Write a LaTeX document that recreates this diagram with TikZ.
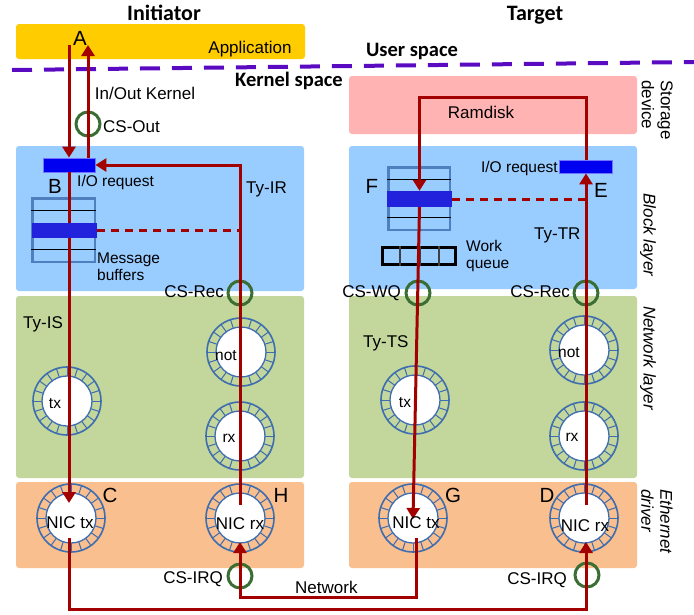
\documentclass[tikz,border=0pt]{standalone}
\usepackage{fontspec}
\setmainfont{Liberation Sans}
\newfontfamily\titlefont{Carlito}
\usetikzlibrary{arrows.meta,calc}
\definecolor{appyellow}{HTML}{FFCC00}
\definecolor{storpink}{HTML}{FFB3B3}
\definecolor{blockblue}{HTML}{99CCFF}
\definecolor{netgreen}{HTML}{C3D69B}
\definecolor{ethorange}{HTML}{F9BF8F}
\definecolor{ringblue}{HTML}{3E6DB0}
\definecolor{csgreen}{HTML}{3B6E35}
\definecolor{darkred}{HTML}{A30000}
\definecolor{divpurple}{HTML}{5A0BC2}
\definecolor{barblue}{HTML}{0000F0}
\definecolor{msgblue}{HTML}{2222DD}
\definecolor{bufblue}{HTML}{4F7FBF}
\pgfdeclarelayer{front}
\pgfsetlayers{main,front}
\begin{document}
\begin{tikzpicture}[x=1pt,y=-1pt,
  layer/.style={rectangle, rounded corners=3pt, inner sep=0pt},
  txt/.style={inner sep=0pt, font=\fontsize{17}{19}\selectfont},
  stxt/.style={inner sep=0pt, font=\fontsize{15.5}{17}\selectfont},
  letter/.style={inner sep=0pt, font=\fontsize{20.5}{20.5}\selectfont},
  ttl/.style={inner sep=0pt, font=\titlefont\bfseries\fontsize{22}{22}\selectfont},
  sub/.style={inner sep=0pt, font=\titlefont\bfseries\fontsize{20.5}{20.5}\selectfont},
  side/.style={inner sep=0pt, rotate=-90, align=left, font=\fontsize{17}{19}\selectfont},
  ring/.style={circle, draw=ringblue, line width=1.6pt, minimum size=68pt, inner sep=0pt,
    path picture={
      \foreach \a in {0,18,...,342}{\draw[ringblue, line width=1pt] (path picture bounding box.center) -- ++(\a:40);}
      \fill[white] (path picture bounding box.center) circle[radius=25pt];
      \draw[ringblue, line width=1.3pt] (path picture bounding box.center) circle[radius=25pt];
    }},
  cs/.style={circle, draw=csgreen, line width=3pt, minimum size=24pt, inner sep=0pt},
  bar/.style={inner sep=0pt, rectangle},
  buf/.style={draw=bufblue, line width=2.5pt, inner sep=0pt, rectangle},
  redarr/.style={draw=darkred, line width=3pt, -{Triangle[width=13pt,length=11pt]}},
  reddash/.style={draw=darkred, line width=3pt, dash pattern=on 8pt off 6pt},
]
\useasboundingbox (0,0) rectangle (694,614);
\fill[white] (0,0) rectangle (694,614);

% layer boxes
\node[layer, fill=appyellow, minimum width=289pt, minimum height=35pt] (app) at (160.5,41.5) {};
\node[layer, fill=storpink, minimum width=288pt, minimum height=58pt] (stor) at (493,105) {};
\node[layer, fill=blockblue, minimum width=288pt, minimum height=145pt] (blockL) at (160,218.5) {};
\node[layer, fill=blockblue, minimum width=288pt, minimum height=143pt] (blockR) at (493,217.5) {};
\node[layer, fill=netgreen, minimum width=288pt, minimum height=182pt] (netL) at (160,387) {};
\node[layer, fill=netgreen, minimum width=288pt, minimum height=182pt] (netR) at (493,387) {};
\node[layer, fill=ethorange, minimum width=288pt, minimum height=86pt] (ethL) at (160,525) {};
\node[layer, fill=ethorange, minimum width=288pt, minimum height=86pt] (ethR) at (493,525) {};

% user / kernel divider
\coordinate (divL) at (12,70);
\coordinate (divR) at (694,62);
\draw[divpurple, line width=4pt, dash pattern=on 20pt off 12pt] (divL) -- (divR);

% rings
\node[ring] (txL) at (67,401) {};
\node[ring] (notL) at (241,352) {};
\node[ring] (rxL) at (240,436) {};
\node[ring] (txR) at (415,400) {};
\node[ring] (notR) at (584,350) {};
\node[ring] (rxR) at (584,436) {};
\node[ring] (nictxL) at (71,518) {};
\node[ring] (nicrxL) at (240,518) {};
\node[ring] (nictxR) at (413,518) {};
\node[ring] (nicrxR) at (584,518) {};

% message buffers (initiator)
\node[buf, minimum width=62.5pt, minimum height=63.5pt] (bufL) at (63.5,230) {};
\draw[black, line width=1pt] (bufL.west |- 0,210) -- (bufL.east |- 0,210);
\draw[black, line width=1pt] (bufL.west |- 0,249) -- (bufL.east |- 0,249);
% F queue (target)
\node[buf, minimum width=61.5pt, minimum height=62.5pt] (bufR) at (419,198.5) {};
\draw[black, line width=1pt] (bufR.west |- 0,179) -- (bufR.east |- 0,179);
\draw[black, line width=1pt] (bufR.west |- 0,217) -- (bufR.east |- 0,217);
% work queue
\node[draw=black, line width=3pt, inner sep=0pt, minimum width=73pt, minimum height=17pt] (wq) at (419,256) {};
\foreach \xx in {400,420,439}{\draw[black!75, line width=1.5pt] (wq.north -| \xx,0) -- (wq.south -| \xx,0);}

% I/O request bars
\node[bar, fill=barblue, draw=blue!55, line width=0.8pt, minimum width=52pt, minimum height=14pt] (ioreqL) at (69,165) {};
\node[bar, fill=barblue, draw=blue!55, line width=0.8pt, minimum width=53pt, minimum height=13pt] (ioreqR) at (586,166.5) {};
\begin{pgfonlayer}{front}
\node[bar, fill=msgblue, minimum width=65pt, minimum height=15pt] (msgL) at (64.5,230.5) {};
\node[bar, fill=msgblue, minimum width=65pt, minimum height=16pt] (msgR) at (419.5,199) {};
\end{pgfonlayer}

% CS circles
\node[cs] (csout) at (88,124) {};
\node[cs] (csrecL) at (240,293) {};
\node[cs] (cswq) at (418,293) {};
\node[cs] (csrecR) at (586,293) {};
\node[cs] (csirqL) at (240,576) {};
\node[cs] (csirqR) at (587,575) {};

% connector end points
\coordinate (appOut) at (69,45);
\coordinate (appIn) at (88,45);
\coordinate (Ctip) at (69,503);
\coordinate (Cout) at (69,538);
\coordinate (Hout) at (240,505);
\coordinate (Htip) at (240,542);
\coordinate (Gout) at (416,538);
\coordinate (Gtip) at (413,519);
\coordinate (Dout) at (586,505);
\coordinate (Dtip) at (586,542);
\coordinate (netA) at (0,597);
\coordinate (netB) at (0,609);
\coordinate (ramTop) at (0,97);

% red connectors
\draw[redarr] (appOut) -- (appOut |- ioreqL.north);
\draw[redarr] (ioreqL.north -| appIn) -- (appIn);
\draw[redarr] (ioreqL.south) -- (Ctip);
\draw[redarr] (Hout) -- (Hout |- ioreqL.east) -- (ioreqL.east);
\draw[redarr] (Cout) -- (Cout |- netB) -| (Dtip);
\draw[redarr] (Gout) -- (Gout |- netA) -| (Htip);
\draw[redarr] (Dout) -- (Dout |- ioreqR.south);
\draw[redarr] (ioreqR.north) -- (ioreqR.north |- ramTop) -| (msgR.north);
\draw[redarr] (msgR.south) -- (Gtip);
\draw[reddash] (msgL.east) -- (msgL.east -| Hout);
\draw[reddash] (msgR.east) -- (msgR.east -| Dout);

% titles
\node[ttl, anchor=base] (tinit) at (164,20.7) {Initiator};
\node[ttl, anchor=base] (ttarget) at (535,20.7) {Target};
\node[sub, anchor=base] (tuser) at (412,56) {User space};
\node[sub, anchor=base] (tkernel) at (289,86) {Kernel space};

% texts
\node[txt, anchor=base] (tapp) at (250,53) {Application};
\node[letter, anchor=base] (tA) at (80,45) {A};
\node[txt, anchor=base] (tinout) at (145,99) {In/Out Kernel};
\node[txt, anchor=base west] (tcsout) at (103,132) {CS-Out};
\node[txt, anchor=base] (tram) at (481,118) {Ramdisk};

\node[stxt, anchor=base west] (tioL) at (77,186) {I/O request};
\node[letter, anchor=base] (tB) at (55,193) {B};
\node[txt, anchor=base west] (ttyir) at (246,193) {Ty-IR};
\node[stxt, anchor=base west, align=left] (tmsg) at (97,280) {Message\\buffers};
\node[txt, anchor=base east] (tcsrecL) at (224,297) {CS-Rec};

\node[letter, anchor=base] (tF) at (372,193) {F};
\node[stxt, anchor=base east] (tioR) at (558,172) {I/O request};
\node[letter, anchor=base] (tE) at (601,197) {E};
\node[txt, anchor=base west] (ttytr) at (534,239) {Ty-TR};
\node[stxt, anchor=base west, align=left] (twq) at (466,268) {Work\\queue};
\node[txt, anchor=base east] (tcswq) at (401,297) {CS-WQ};
\node[txt, anchor=base east] (tcsrecR) at (570,297) {CS-Rec};

\node[txt, anchor=base west] (ttyis) at (23,328) {Ty-IS};
\node[txt, anchor=base west] (ttyts) at (363,347) {Ty-TS};
\node[stxt, anchor=base] (lnotL) at (226,360) {not};
\node[stxt, anchor=base] (ltxL) at (55,408) {tx};
\node[stxt, anchor=base] (lrxL) at (229,442) {rx};
\node[stxt, anchor=base] (lnotR) at (569,357) {not};
\node[stxt, anchor=base] (ltxR) at (405,407) {tx};
\node[stxt, anchor=base] (lrxR) at (572,441) {rx};

\node[letter, anchor=base] (tC) at (110,502) {C};
\node[letter, anchor=base] (tH) at (281,502) {H};
\node[letter, anchor=base] (tG) at (453,502) {G};
\node[letter, anchor=base] (tD) at (547,502) {D};
\node[txt, anchor=base] (lnictxL) at (70,528) {NIC tx};
\node[txt, anchor=base] (lnicrxL) at (240,529) {NIC rx};
\node[txt, anchor=base] (lnictxR) at (416,528) {NIC tx};
\node[txt, anchor=base] (lnicrxR) at (585,531) {NIC rx};
\node[txt, anchor=base east] (tcsirqL) at (223,583) {CS-IRQ};
\node[txt, anchor=base east] (tcsirqR) at (567,584) {CS-IRQ};
\node[txt, anchor=base west] (tnet) at (295,593) {Network};

% side labels
\node[side, anchor=north west] (sstor) at (673,80) {Storage\\device};
\node[side, font=\itshape\fontsize{17}{19}\selectfont] (sblock) at (648,235) {Block layer};
\node[side, font=\itshape\fontsize{17}{19}\selectfont] (snet) at (648,358) {Network layer};
\node[side, anchor=north west, font=\itshape\fontsize{17}{19}\selectfont] (seth) at (673,489) {Ethernet\\driver};
\end{tikzpicture}
\end{document}
